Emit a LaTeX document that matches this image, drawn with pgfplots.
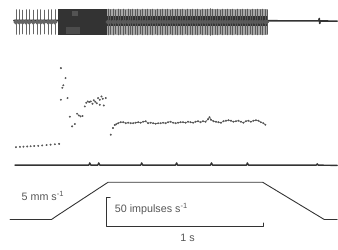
\documentclass[border=0pt]{standalone}
\usepackage{pgfplots}
\pgfplotsset{compat=1.18}
\usepackage{fontspec}
\setmainfont{Liberation Sans}
\definecolor{ink}{HTML}{333333}
\definecolor{txt}{HTML}{555555}
\definecolor{band}{HTML}{A8A8A8}
\definecolor{spk}{HTML}{5A5A5A}
\begin{document}
\begin{tikzpicture}
\begin{axis}[
  width=338bp, height=250bp, scale only axis,
  xmin=0, xmax=338, ymin=0, ymax=250, y dir=reverse,
  axis lines=none, clip=false, enlargelimits=false,
  every axis plot/.append style={line join=round, line cap=round},
]
% frame of the picture (invisible) so the page is the whole axis area
\addplot[draw=none, forget plot] coordinates {(0,0)(338,250)};
% --- top trace: spike band ---
\addplot[fill=band, draw=none] coordinates {(107,9)(268,9)(268,35)(107,35)};
\addplot[fill=ink, draw=none] coordinates {(58,9.5)(107,9.5)(107,35)(58,35)};
\addplot[fill=gray!60!black, draw=none] coordinates {(66,27)(80,27)(80,34)(66,34)};
\addplot[fill=gray!65!black, draw=none] coordinates {(72,11)(78,11)(78,16)(72,16)};
\addplot[fill=ink, draw=none] coordinates {(107,16)(268,16)(268,26)(107,26)};
% region A spikes
\addplot[only marks, mark=none, color=gray!80!black, line width=1.3pt,
  error bars/.cd, y dir=both, y explicit, error mark=none]
  coordinates {(16,22)+-(0,12.5)(19.3,22)+-(0,12.5)(22.7,22)+-(0,12)(26,22)+-(0,12.5)
  (29.3,22)+-(0,12.5)(33.3,22)+-(0,12)(37.3,22)+-(0,12.5)(40.7,22)+-(0,12.5)
  (44,22)+-(0,12)(48.3,22)+-(0,12.5)(51.7,22)+-(0,12.5)(55,22)+-(0,12.5)};
% region C spikes
\addplot[only marks, mark=none, color=spk, line width=0.6pt,
  error bars/.cd, y dir=both, y explicit, error mark=none]
  coordinates {(108,22)+-(0,13)(110.5,22)+-(0,12.5)(113,22)+-(0,13)(115.5,22)+-(0,12)
  (118,22)+-(0,13)(120.5,22)+-(0,12.5)(123,22)+-(0,13)(125.5,22)+-(0,12)
  (128,22)+-(0,13)(130.5,22)+-(0,12.5)(133,22)+-(0,13)(135.5,22)+-(0,12.5)
  (138,22)+-(0,13)(140.5,22)+-(0,12)(143,22)+-(0,13)(145.5,22)+-(0,12.5)
  (148,22)+-(0,13)(150.5,22)+-(0,12.5)(153,22)+-(0,13)(155.5,22)+-(0,12)
  (158,22)+-(0,13)(160.5,22)+-(0,12.5)(163,22)+-(0,13)(165.5,22)+-(0,12.5)
  (168,22)+-(0,13)(170.5,22)+-(0,12)(173,22)+-(0,13)(175.5,22)+-(0,12.5)
  (178,22)+-(0,13)(180.5,22)+-(0,12.5)(183,22)+-(0,13)(185.5,22)+-(0,12)
  (188,22)+-(0,13)(190.5,22)+-(0,12.5)(193,22)+-(0,13)(195.5,22)+-(0,12.5)
  (198,22)+-(0,13)(200.5,22)+-(0,12)(203,22)+-(0,13)(205.5,22)+-(0,12.5)
  (208,22)+-(0,13)(210.5,22)+-(0,13.5)(213,22)+-(0,13)(215.5,22)+-(0,12.5)
  (218,22)+-(0,13)(220.5,22)+-(0,12)(223,22)+-(0,13)(225.5,22)+-(0,12.5)
  (228,22)+-(0,13)(230.5,22)+-(0,12.5)(233,22)+-(0,13)(235.5,22)+-(0,12)
  (238,22)+-(0,13)(240.5,22)+-(0,12.5)(243,22)+-(0,13)(245.5,22)+-(0,12.5)
  (248,22)+-(0,13)(250.5,22)+-(0,12)(253,22)+-(0,13)(255.5,22)+-(0,12.5)
  (258,22)+-(0,13)(260.5,22)+-(0,12.5)(263,22)+-(0,13)(265.5,22)+-(0,12.5)
  (267.5,22)+-(0,12.5)};
% baseline of top trace
\addplot[ink, line width=1.6pt] coordinates {(14,20.5)(268,20.8)(318,21)(319.5,21)(320,18.5)(320.5,23.5)(321,21)(338,21.2)};
% --- instantaneous frequency dots ---
\addplot[only marks, mark=*, mark size=0.8pt, color=txt] coordinates {
 (16,147.5)(20,147.2)(23.5,147)(27.3,146.8)(30.7,146.6)(34.3,146.3)(38.3,146.2)
 (42.3,145.8)(46.7,145.4)(50.7,145)(55,144.6)(59.3,144.2)
 (61,68.3)(65.7,78.3)(63.5,85.5)(62.5,88)(61,100)(67.7,98.3)(70,117)
 (72.3,126.7)(75,124.3)(77.3,114)(79,115.7)(80.7,116.7)(82.7,116.3)
 (85,106.7)(86.5,103)(88,101.7)(89.5,102.3)(91,101.7)(92.7,104)(94,100.5)
 (95.5,102)(97,103.5)(98.3,98.3)(100,100)(100,105)(101.7,96.7)(103,99)
 (104,105.7)(106,98.3)
 (111,135)(113.3,128.3)(115,125.3)
 (116.5,124.5)(118.5,123.5)(121,122.5)(123.5,122.5)(126,123.5)(128.5,123)(131,123.5)
 (133.5,123.5)(136,123)(138.5,122.5)(141,123)(143.5,122)(146,121.5)(148.5,123.5)
 (151,123)(153.5,123.5)(156,124)(158.5,123.5)(161,123.5)(163.5,123)(166,123.5)
 (168.5,122.5)(171,122)(173.5,123)(176,123.5)(178.5,123)(181,122.5)(183.5,122.5)
 (186,123)(188.5,122)(191,122.5)(193.5,123)(196,122)(198.5,121.5)(201,122.5)
 (203.5,121.5)(206,122)(208.5,119.5)(210,117.5)(211.5,120)(214,121.5)(216.5,122)
 (219,122.5)(221.5,123)(224,121.5)(226.5,121)(229,120.5)(231.5,121)(234,122)
 (236.5,121.5)(239,121)(241.5,122)(244,123)(246.5,121.5)(249,121)(251.5,122)
 (254,121)(256.5,120.5)(259,121)(261.5,122.5)(264,123.5)(266,125)};
% connecting trace of plateau
\addplot[txt, line width=0.5pt] coordinates {
 (116.5,124.5)(118.5,123.5)(121,122.5)(123.5,122.5)(126,123.5)(128.5,123)(131,123.5)
 (133.5,123.5)(136,123)(138.5,122.5)(141,123)(143.5,122)(146,121.5)(148.5,123.5)
 (151,123)(153.5,123.5)(156,124)(158.5,123.5)(161,123.5)(163.5,123)(166,123.5)
 (168.5,122.5)(171,122)(173.5,123)(176,123.5)(178.5,123)(181,122.5)(183.5,122.5)
 (186,123)(188.5,122)(191,122.5)(193.5,123)(196,122)(198.5,121.5)(201,122.5)
 (203.5,121.5)(206,122)(208.5,119.5)(210,117.5)(211.5,120)(214,121.5)(216.5,122)
 (219,122.5)(221.5,123)(224,121.5)(226.5,121)(229,120.5)(231.5,121)(234,122)
 (236.5,121.5)(239,121)(241.5,122)(244,123)(246.5,121.5)(249,121)(251.5,122)
 (254,121)(256.5,120.5)(259,121)(261.5,122.5)(264,123.5)(266,125)};
% --- middle trace with small spikes ---
\addplot[ink, line width=1.4pt] coordinates {
 (15,165.5)(89,165.5)(90,163.3)(91,165.5)(98,165.5)(99,163.3)(100,165.5)
 (141,165.5)(142,163.3)(143,165.5)(176,165.5)(177,163.3)(178,165.5)
 (211,165.5)(212,163.3)(213,165.5)(247,165.5)(248,163.3)(249,165.5)
 (317,165.5)(318,164.3)(319,165.5)(338,165.8)};
% --- ramp (stimulus) ---
\addplot[ink, line width=0.9pt] coordinates {
 (10,220)(51.7,220)(56,217)(108.3,182.7)(263.3,182.7)(325,220)(338,220)};
% --- scale bars ---
\addplot[ink, line width=0.9pt] coordinates {(110.5,198)(106.8,198)(106.8,227)(264.3,227)(264.3,223.5)};
% --- labels ---
\node[anchor=west, text=txt, font=\fontsize{10.8}{13}\selectfont, inner sep=0pt] at (axis cs:21.5,196) {5 mm s\textsuperscript{-1}};
\node[anchor=west, text=txt, font=\fontsize{10.8}{13}\selectfont, inner sep=0pt] at (axis cs:115,209.5) {50 impulses s\textsuperscript{-1}};
\node[anchor=center, text=txt, font=\fontsize{10.8}{13}\selectfont, inner sep=0pt] at (axis cs:188,238.5) {1 s};
\end{axis}
\end{tikzpicture}
\end{document}
